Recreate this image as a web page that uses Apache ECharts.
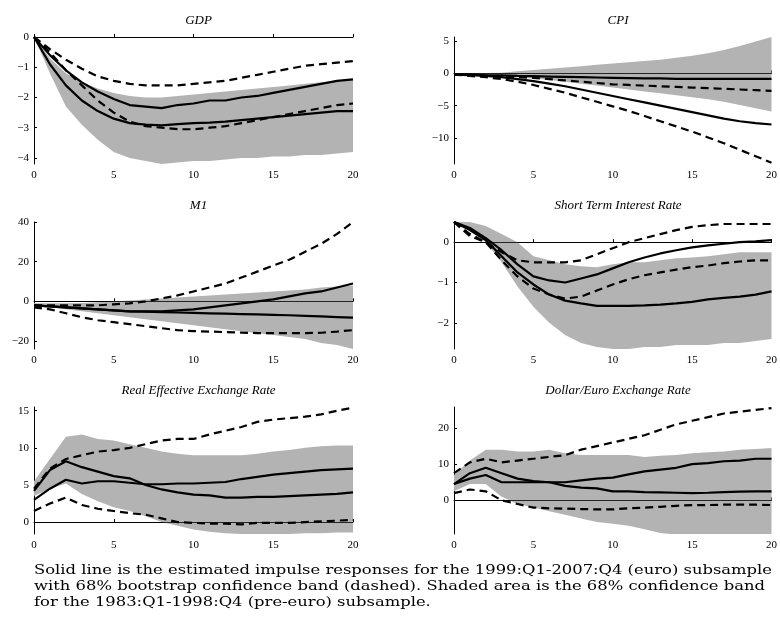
<!DOCTYPE html>
<html>
<head>
<meta charset="utf-8">
<script src="https://cdn.jsdelivr.net/npm/echarts@6/dist/echarts.min.js"></script>
<style>
  body { margin: 0; background: #fff; }
  #chart { width: 780px; height: 620px; }
</style>
</head>
<body>
<div id="chart"></div>
<script>
var horizons = [0,1,2,3,4,5,6,7,8,9,10,11,12,13,14,15,16,17,18,19,20];
var titles = ['GDP', 'CPI', 'M1', 'Short Term Interest Rate', 'Real Effective Exchange Rate', 'Dollar/Euro Exchange Rate'];
var xTicks = [0, 5, 10, 15, 20];

// GDP
var gdpBandHi = [0,-0.7,-1.2,-1.5,-1.7,-1.85,-1.95,-2.0,-2.0,-1.95,-1.9,-1.85,-1.8,-1.75,-1.7,-1.65,-1.6,-1.55,-1.5,-1.45,-1.4];
var gdpBandLo = [0,-1.2,-2.3,-2.9,-3.4,-3.8,-4.0,-4.1,-4.2,-4.15,-4.1,-4.1,-4.05,-4.0,-4.0,-3.95,-3.95,-3.9,-3.9,-3.85,-3.8];
var gdpSolidA = [0,-0.6,-1.1,-1.5,-1.8,-2.05,-2.25,-2.3,-2.35,-2.25,-2.2,-2.1,-2.1,-2.0,-1.95,-1.85,-1.75,-1.65,-1.55,-1.45,-1.4];
var gdpSolidB = [0,-0.9,-1.6,-2.1,-2.45,-2.7,-2.85,-2.9,-2.92,-2.88,-2.85,-2.83,-2.8,-2.75,-2.7,-2.65,-2.6,-2.55,-2.5,-2.45,-2.45];
var gdpDashHi = [0,-0.4,-0.75,-1.05,-1.3,-1.45,-1.55,-1.6,-1.6,-1.6,-1.55,-1.5,-1.45,-1.35,-1.25,-1.15,-1.05,-0.95,-0.9,-0.85,-0.8];
var gdpDashLo = [0,-0.5,-1.1,-1.6,-2.1,-2.5,-2.8,-2.95,-3.0,-3.05,-3.05,-3.0,-2.95,-2.85,-2.75,-2.65,-2.55,-2.45,-2.35,-2.25,-2.2];

// CPI
var cpiBandHi = [0,0,0.05,0.1,0.3,0.5,0.7,0.9,1.1,1.3,1.5,1.7,1.9,2.1,2.4,2.7,3.1,3.6,4.2,4.9,5.6];
var cpiBandLo = [-0.2,-0.3,-0.4,-0.5,-0.6,-0.8,-1.0,-1.3,-1.6,-1.9,-2.2,-2.5,-2.8,-3.1,-3.4,-3.7,-4.0,-4.4,-4.9,-5.4,-5.9];
var cpiSolidA = [-0.2,-0.2,-0.3,-0.3,-0.4,-0.45,-0.5,-0.55,-0.6,-0.65,-0.7,-0.75,-0.8,-0.8,-0.85,-0.85,-0.85,-0.85,-0.85,-0.85,-0.85];
var cpiSolidB = [-0.2,-0.3,-0.4,-0.6,-0.9,-1.2,-1.6,-2.0,-2.5,-3.0,-3.5,-4.0,-4.5,-5.0,-5.5,-6.0,-6.5,-7.0,-7.4,-7.7,-7.9];
var cpiDashHi = [-0.2,-0.3,-0.4,-0.5,-0.6,-0.7,-0.9,-1.1,-1.3,-1.5,-1.7,-1.8,-1.9,-2.0,-2.1,-2.2,-2.3,-2.4,-2.5,-2.6,-2.7];
var cpiDashLo = [-0.2,-0.4,-0.6,-0.9,-1.3,-1.8,-2.4,-3.0,-3.7,-4.4,-5.1,-5.8,-6.6,-7.4,-8.2,-9.0,-9.9,-10.8,-11.8,-12.8,-13.8];

// M1
var m1BandHi = [-1,-1,-1,-0.8,-0.5,0,0.5,1,1.5,2,2.5,3,3.5,4,4.5,5,5.5,6,7,7.5,8];
var m1BandLo = [-2,-3,-4,-5,-6,-7,-8,-9,-10,-11,-12,-13,-14,-15,-16,-17,-18,-19,-21,-22,-24];
var m1SolidA = [-2,-2.5,-3,-3.5,-4,-4.5,-5,-5,-5,-4.5,-4,-3,-2,-1,0,1,2.5,4,5,7,9];
var m1SolidB = [-2,-2.5,-3,-3.5,-4,-4.5,-5,-5.2,-5.4,-5.6,-5.8,-6,-6.2,-6.4,-6.6,-6.8,-7,-7.3,-7.6,-7.9,-8.2];
var m1DashHi = [-2,-2,-2,-2,-2,-1.5,-1,0,1.5,3,5,7,9,12,15,18,21,25,29,34,40];
var m1DashLo = [-3,-4,-6,-8,-9.5,-10.5,-11.5,-12.5,-13.5,-14.5,-15,-15.2,-15.5,-15.7,-16,-16,-16,-16,-15.8,-15.2,-14.5];

// Short term interest rate
var irBandHi = [0.5,0.5,0.4,0.2,0,-0.35,-0.45,-0.55,-0.6,-0.62,-0.55,-0.5,-0.5,-0.45,-0.4,-0.38,-0.35,-0.3,-0.25,-0.25,-0.25];
var irBandLo = [0.5,0.3,0,-0.5,-1.1,-1.6,-2.0,-2.3,-2.5,-2.6,-2.65,-2.65,-2.6,-2.6,-2.55,-2.55,-2.55,-2.5,-2.5,-2.45,-2.4];
var irSolidA = [0.5,0.35,0.1,-0.2,-0.55,-0.85,-0.95,-1.0,-0.9,-0.8,-0.65,-0.5,-0.38,-0.28,-0.2,-0.13,-0.08,-0.04,0,0.02,0.05];
var irSolidB = [0.5,0.3,0.05,-0.35,-0.75,-1.05,-1.3,-1.45,-1.52,-1.58,-1.58,-1.58,-1.57,-1.55,-1.52,-1.48,-1.42,-1.38,-1.35,-1.3,-1.22];
var irDashHi = [0.5,0.2,0.0,-0.25,-0.45,-0.5,-0.5,-0.5,-0.45,-0.3,-0.15,0.0,0.1,0.2,0.3,0.38,0.42,0.45,0.45,0.45,0.45];
var irDashLo = [0.5,0.15,0.0,-0.45,-0.85,-1.15,-1.3,-1.4,-1.35,-1.2,-1.05,-0.92,-0.82,-0.75,-0.68,-0.62,-0.58,-0.52,-0.48,-0.45,-0.45];

// Real effective exchange rate
var reerBandHi = [5.5,8.5,11.5,11.8,11.2,11.0,10.5,10,9.5,9.2,9.0,9.0,9.0,9.0,9.2,9.5,9.7,10,10.2,10.3,10.3];
var reerBandLo = [3.5,4.5,5.2,3.8,2.8,2,1.5,0.8,0,-0.5,-1,-1.3,-1.5,-1.6,-1.6,-1.6,-1.6,-1.5,-1.5,-1.4,-1.4];
var reerSolidA = [4.2,7.0,8.2,7.4,6.8,6.2,5.9,5.0,4.4,4.0,3.7,3.6,3.3,3.3,3.4,3.4,3.5,3.6,3.7,3.8,4.0];
var reerSolidB = [3.0,4.5,5.7,5.2,5.5,5.5,5.3,5.1,5.1,5.2,5.2,5.3,5.4,5.8,6.1,6.4,6.6,6.8,7.0,7.1,7.2];
var reerDashHi = [4.5,7.2,8.5,9.0,9.5,9.7,10.0,10.5,11.0,11.2,11.2,11.8,12.3,12.8,13.5,13.8,14.0,14.2,14.5,15.0,15.4];
var reerDashLo = [1.5,2.5,3.3,2.3,1.8,1.5,1.2,1.0,0.5,0.0,-0.1,-0.2,-0.2,-0.3,-0.1,-0.1,-0.1,0,0.1,0.2,0.3];

// Dollar/Euro exchange rate
var usdBandHi = [7,11,14,14,13.5,13.5,14,13,12.5,12.5,12.5,12.5,12,12.3,12.5,13,13.3,13.5,14,14.2,14.5];
var usdBandLo = [2.5,4.5,4.5,1,-1,-2,-3,-4,-5,-6,-6.5,-7,-8,-9,-9.5,-9.3,-9.3,-9.3,-9.3,-9.3,-9.3];
var usdSolidA = [4.5,7.5,9,7.5,6,5.3,5,4,3.5,3.3,2.5,2.5,2.3,2.2,2.1,2.0,2.1,2.3,2.4,2.5,2.5];
var usdSolidB = [4.5,6,7,5,5,5,5,5,5.5,6,6.3,7.2,8,8.5,9,10,10.3,10.8,11,11.5,11.5];
var usdDashHi = [7.5,10.5,11.5,10.5,11,11.5,12,12.5,14,15,16,17,18,19.5,21,22,23,24,24.5,25,25.5];
var usdDashLo = [2,3,2.5,0,-1,-2,-2.2,-2.3,-2.4,-2.5,-2.5,-2.2,-2,-1.8,-1.5,-1.3,-1.3,-1.2,-1.2,-1.2,-1.3];

var yTicks = [[0,-1,-2,-3,-4],[5,0,-5,-10],[40,20,0,-20],[0,-1,-2],[15,10,5,0],[20,10,0]];
var yRange = [[-4.2,0],[-14,5.6],[-24,40],[-2.65,0.5],[-1.6,15.5],[-9.3,25.8]];

var panels = [
  [gdpBandLo, gdpBandHi, gdpSolidA, gdpSolidB, gdpDashHi, gdpDashLo],
  [cpiBandLo, cpiBandHi, cpiSolidA, cpiSolidB, cpiDashHi, cpiDashLo],
  [m1BandLo, m1BandHi, m1SolidA, m1SolidB, m1DashHi, m1DashLo],
  [irBandLo, irBandHi, irSolidA, irSolidB, irDashHi, irDashLo],
  [reerBandLo, reerBandHi, reerSolidA, reerSolidB, reerDashHi, reerDashLo],
  [usdBandLo, usdBandHi, usdSolidA, usdSolidB, usdDashHi, usdDashLo]
];

var font = 'Liberation Serif';
var tops = [37, 222, 407];
var lefts = [34, 454];
var widths = [319, 318];

var grids = [], xAxes = [], yAxes = [], series = [], texts = [];

function pairs(arr) {
  return arr.map(function (v, i) { return [horizons[i], v]; });
}

// 阴影带：整条带画成一个多边形（经坐标轴换算）
function bandRenderer(lo, hi) {
  return function (params, api) {
    if (params.dataIndex !== 0) return;
    var pts = [];
    for (var i = 0; i < horizons.length; i++) pts.push(api.coord([horizons[i], hi[i]]));
    for (var j = horizons.length - 1; j >= 0; j--) pts.push(api.coord([horizons[j], lo[j]]));
    return { type: 'polygon', shape: { points: pts }, style: { fill: '#b3b3b3' } };
  };
}

for (var p = 0; p < 6; p++) {
  var col = p % 2, row = Math.floor(p / 2);
  grids.push({ left: lefts[col], top: tops[row], width: widths[col], height: 127 });
  xAxes.push({
    type: 'value', gridIndex: p, min: 0, max: 20,
    axisLine: { show: true, lineStyle: { color: '#000', width: 1 } },
    axisTick: { show: true, inside: true, length: 3, lineStyle: { color: '#000' }, customValues: xTicks },
    axisLabel: { color: '#000', fontFamily: font, fontSize: 11, margin: 6, customValues: xTicks },
    splitLine: { show: false }
  });
  yAxes.push({
    type: 'value', gridIndex: p, min: yRange[p][0], max: yRange[p][1],
    axisLine: { show: true, lineStyle: { color: '#000', width: 1 } },
    axisTick: { show: true, inside: true, length: 3, lineStyle: { color: '#000' }, customValues: yTicks[p] },
    axisLabel: { color: '#000', fontFamily: font, fontSize: 11, margin: 5,
      customValues: yTicks[p],
      formatter: function (v) { return v < 0 ? '\u2212' + (-v) : String(v); } },
    splitLine: { show: false }
  });
  texts.push({
    text: titles[p], left: lefts[col] + widths[col] / 2, top: tops[row] - 28, textAlign: 'center',
    textStyle: { fontFamily: font, fontStyle: 'italic', fontWeight: 'normal', fontSize: 13, color: '#000' }
  });

  var d = panels[p];
  var base = { xAxisIndex: p, yAxisIndex: p, silent: true, animation: false };
  series.push(Object.assign({}, base, {
    type: 'custom', data: pairs(d[1]), renderItem: bandRenderer(d[0], d[1]), z: 1, clip: true
  }));
  var line = Object.assign({}, base, { type: 'line', symbol: 'none', z: 3 });
  series.push(Object.assign({}, line, {
    data: pairs(d[2]), lineStyle: { color: '#000', width: 2.2 },
    markLine: { symbol: 'none', silent: true, label: { show: false }, animation: false,
      lineStyle: { color: '#000', width: 0.8, type: 'solid' }, data: [{ yAxis: 0 }] }
  }));
  series.push(Object.assign({}, line, { data: pairs(d[3]), lineStyle: { color: '#000', width: 2.2 } }));
  series.push(Object.assign({}, line, { data: pairs(d[4]), lineStyle: { color: '#000', width: 2.2, type: [8, 5] } }));
  series.push(Object.assign({}, line, { data: pairs(d[5]), lineStyle: { color: '#000', width: 2.2, type: [8, 5] } }));
}

var note = [
  'Solid line is the estimated impulse responses for the 1999:Q1-2007:Q4 (euro) subsample',
  'with 68% bootstrap confidence band (dashed). Shaded area is the 68% confidence band',
  'for the 1983:Q1-1998:Q4 (pre-euro) subsample.'
];

// 脚注宽度拉伸到与图同宽
var noteFont = '13px "DejaVu Serif"';
var ctx = document.createElement('canvas').getContext('2d');
ctx.font = noteFont;
var noteScale = 738 / ctx.measureText(note[0]).width;

var myChart = echarts.init(document.getElementById('chart'));
myChart.setOption({
  backgroundColor: '#fff',
  title: texts,
  grid: grids,
  xAxis: xAxes,
  yAxis: yAxes,
  series: series,
  graphic: note.map(function (t, i) {
    return { type: 'text', x: 34, y: 564 + i * 16, scaleX: noteScale,
      style: { text: t, font: noteFont, fill: '#000' } };
  })
});
</script>
</body>
</html>
